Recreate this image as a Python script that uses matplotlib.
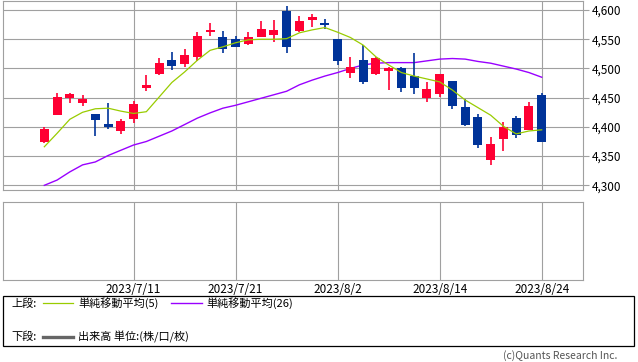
import matplotlib
matplotlib.use("Agg")
import matplotlib.pyplot as plt
from matplotlib.lines import Line2D
from matplotlib.patches import Rectangle

plt.rcParams['font.family'] = ['Noto Sans CJK JP', 'DejaVu Sans']

# OHLC, one candle per trading day
opens = [4374, 4421, 4450, 4441, 4422, 4405, 4393, 4414, 4467, 4491,
         4514, 4508, 4520, 4562, 4554, 4550, 4542, 4554, 4558, 4598,
         4564, 4583, 4577, 4550, 4493, 4514, 4491, 4496, 4501, 4487,
         4450, 4457, 4478, 4434, 4417, 4344, 4380, 4415, 4395, 4455]
highs = [4399, 4458, 4458, 4454, 4422, 4441, 4413, 4444, 4489, 4518,
         4528, 4533, 4562, 4578, 4564, 4556, 4562, 4581, 4583, 4607,
         4590, 4593, 4585, 4550, 4520, 4540, 4520, 4502, 4502, 4526,
         4477, 4490, 4478, 4448, 4422, 4383, 4408, 4419, 4443, 4458]
lows = [4372, 4421, 4441, 4436, 4384, 4396, 4388, 4407, 4462, 4488,
        4498, 4503, 4513, 4556, 4527, 4536, 4541, 4554, 4546, 4527,
        4562, 4571, 4568, 4506, 4484, 4474, 4489, 4463, 4460, 4457,
        4443, 4452, 4431, 4401, 4364, 4335, 4359, 4381, 4395, 4374]
closes = [4396, 4451, 4456, 4448, 4411, 4399, 4410, 4439, 4472, 4509,
          4505, 4523, 4556, 4566, 4534, 4536, 4554, 4568, 4566, 4536,
          4581, 4588, 4575, 4512, 4502, 4477, 4518, 4500, 4467, 4467,
          4465, 4490, 4436, 4403, 4369, 4371, 4400, 4386, 4436, 4374]

ma5 = [4366, 4389, 4413, 4425, 4431, 4432, 4427, 4423, 4426, 4451,
       4476, 4494, 4514, 4531, 4537, 4544, 4549, 4550, 4550, 4551,
       4561, 4566, 4570, 4562, 4553, 4540, 4520, 4506, 4493, 4487,
       4482, 4477, 4463, 4446, 4433, 4420, 4401, 4388, 4393, 4395]
ma26 = [4300, 4309, 4323, 4335, 4340, 4351, 4360, 4369, 4375, 4384,
        4393, 4404, 4415, 4424, 4432, 4437, 4443, 4449, 4455, 4461,
        4472, 4480, 4487, 4493, 4500, 4506, 4509, 4510, 4510, 4510,
        4513, 4516, 4517, 4516, 4512, 4509, 4504, 4499, 4493, 4485]

date_pos = [7, 15, 23, 31, 39]
date_labels = ['2023/7/11', '2023/7/21', '2023/8/2', '2023/8/14', '2023/8/24']
price_ticks = [4300, 4350, 4400, 4450, 4500, 4550, 4600]

UP = '#ff0033'
DOWN = '#003399'
GRID = '#a0a0a0'
W, H = 638, 362

def fx(x):
    return x / W

def fy(y):
    return 1 - y / H

fig = plt.figure(figsize=(W / 100, H / 100), dpi=100)

# upper panel: candles + moving averages
ax = fig.add_axes([fx(3), fy(190), (582.5 - 3) / W, 189.5 / H])
xs = list(range(len(opens)))
colors = [UP if c >= o else DOWN for o, c in zip(opens, closes)]
ax.vlines(xs, lows, highs, colors=colors, linewidth=1.2, zorder=3)
bottoms = [min(o, c) for o, c in zip(opens, closes)]
heights = [max(abs(c - o), 1.2) for o, c in zip(opens, closes)]
ax.bar(xs, heights, bottom=bottoms, width=0.7, color=colors, linewidth=0, zorder=4)
ax.plot(xs, ma5, color='#99cc00', linewidth=0.9, zorder=5)
ax.plot(xs, ma26, color='#9900ff', linewidth=1.0, zorder=2)

ax.set_xlim(-3.24, 42.2)
ax.set_ylim(4292, 4616.3)
ax.set_yticks(price_ticks)
ax.set_yticklabels([f'{v:,}' for v in price_ticks])
ax.yaxis.tick_right()
ax.tick_params(axis='y', length=4, width=0.8, color=GRID, pad=2.5, labelsize=8.5)
ax.set_xticks(date_pos)
ax.tick_params(axis='x', length=0, labelbottom=False)
ax.grid(True, color=GRID, linewidth=0.8, zorder=0)
ax.set_axisbelow(True)
for s in ax.spines.values():
    s.set_color(GRID)
    s.set_linewidth(0.8)

# lower panel: volume (empty)
ax2 = fig.add_axes([fx(3), fy(280), (582.5 - 3) / W, 78.3 / H])
ax2.set_xlim(-3.24, 42.2)
ax2.set_ylim(0, 1)
ax2.set_yticks([])
ax2.set_xticks(date_pos)
ax2.set_xticklabels(date_labels)
ax2.tick_params(axis='x', length=0, pad=2, labelsize=8.5)
ax2.grid(True, axis='x', color=GRID, linewidth=0.8)
for s in ax2.spines.values():
    s.set_color(GRID)
    s.set_linewidth(0.8)

# legend box
fig.add_artist(Rectangle((fx(3.3), fy(345.7)), fx(634.3) - fx(3.3), fy(295.7) - fy(345.7),
                         transform=fig.transFigure, fill=False, edgecolor='black', linewidth=0.9))
fig.text(fx(11.5), fy(303.3), '上段:', fontsize=8, va='center')
fig.add_artist(Line2D([fx(42.7), fx(73.3)], [fy(303.3)] * 2, transform=fig.transFigure,
                      color='#99cc00', linewidth=0.9))
fig.text(fx(78.3), fy(303.3), '単純移動平均(5)', fontsize=8, va='center')
fig.add_artist(Line2D([fx(171), fx(201.5)], [fy(303.3)] * 2, transform=fig.transFigure,
                      color='#9900ff', linewidth=1.0))
fig.text(fx(206.8), fy(303.3), '単純移動平均(26)', fontsize=8, va='center')
fig.text(fx(11.5), fy(336.7), '下段:', fontsize=8, va='center')
fig.add_artist(Line2D([fx(42.7), fx(73.3)], [fy(336.7)] * 2, transform=fig.transFigure,
                      color='#666666', linewidth=2.4))
fig.text(fx(78.3), fy(336.7), '出来高 単位:(株/口/枚)', fontsize=8, va='center')

fig.text(fx(617), fy(355.7), '(c)Quants Research Inc.', fontsize=7.5, color='#555555',
         ha='right', va='center')

fig.savefig('out.png', dpi=100)
